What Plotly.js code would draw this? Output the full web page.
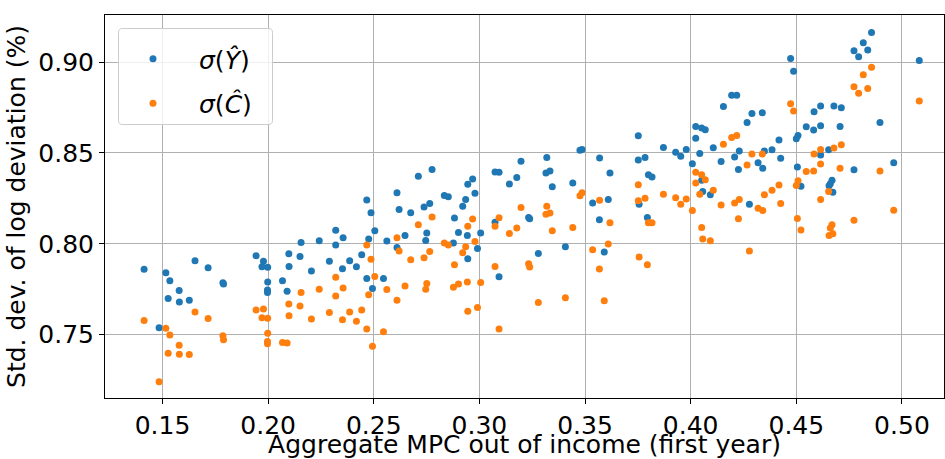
<!DOCTYPE html>
<html>
<head>
<meta charset="utf-8">
<script src="https://cdn.plot.ly/plotly-3.0.1.min.js"></script>
<style>html,body{margin:0;padding:0;background:#fff;}#chart{width:945px;height:459px;}</style>
</head>
<body>
<div id="chart"></div>
<script>
// Aggregate MPC out of income (first year)
const mpc = [
0.1413,0.1516,0.1535,0.1654,0.1716,0.1786,0.1789,0.1579,0.1527,0.1580,0.1627,0.1484,
0.1943,0.1978,0.1971,0.1998,0.1998,0.1997,0.1997,0.2098,0.2099,0.2068,0.2090,0.2156,0.2151,0.2205,0.2242,
0.2320,0.2320,0.2355,0.2290,0.2352,0.2386,0.2418,0.2443,0.2467,0.2487,0.2505,0.2476,0.2467,0.2494,0.2546,
0.2562,0.2610,0.2620,0.2610,0.2648,0.2675,0.2711,0.2776,0.2738,0.2765,0.2751,0.2746,0.2834,0.2853,0.2882,
0.2877,0.2901,0.2921,0.2935,0.2945,0.2968,0.2979,0.2943,0.2945,0.2991,0.3006,0.3074,0.3093,0.3142,0.3177,
0.3197,0.3074,0.3093,0.3233,0.3238,
0.3279,0.3407,0.3319,0.3315,0.3334,0.3345,0.3442,0.3476,0.3486,0.3569,0.3618,0.3536,0.3610,0.3568,0.3591,
0.3752,0.3752,0.3784,0.3800,0.3817,0.3756,0.3795,0.3871,0.3929,0.3953,0.3979,0.4008,0.4024,0.4052,0.4069,
0.4024,0.4043,0.4107,0.4052,0.4057,0.4093,0.4144,0.4155,0.4194,0.4218,0.4208,0.4230,0.4226,
0.4267,0.4290,0.4339,0.4319,0.4341,0.4349,0.4385,0.4418,0.4426,0.4278,0.4473,0.4487,0.4500,0.4508,0.4505,
0.4522,0.4547,0.4582,0.4584,0.4615,0.4615,0.4615,0.4653,0.4678,0.4713,0.4707,0.4669,0.4661,0.4655,0.4673,
0.4773,0.4817,0.4856,0.4795,0.4838,0.4773,0.4896,0.4961,0.5082
];
// sigma(Y hat)
const sigY = [
0.7859,0.7841,0.7797,0.7907,0.7868,0.7786,0.7778,0.7742,0.7698,0.7679,0.7689,0.7537,
0.7934,0.7903,0.7874,0.7870,0.7789,0.7745,0.7731,0.7945,0.7875,0.7797,0.7738,0.8007,0.7930,0.7850,0.8017,
0.8074,0.7993,0.8033,0.7903,0.7862,0.7906,0.7873,0.7939,0.8241,0.8171,0.8072,0.8026,0.7809,0.7754,0.7809,
0.8015,0.8281,0.8189,0.7980,0.8046,0.8171,0.8371,0.8408,0.8202,0.8222,0.8059,0.8018,0.8265,0.8259,0.8142,
0.8004,0.8062,0.8206,0.8243,0.8327,0.8357,0.8278,0.8046,0.7917,0.7974,0.8059,0.8395,0.8393,0.8329,0.8364,
0.8454,0.8118,0.7818,0.8144,0.8138,
0.7947,0.7983,0.8475,0.8389,0.8400,0.8314,0.8334,0.8514,0.8519,0.8472,0.8389,0.8224,0.8244,0.8132,0.7954,
0.8594,0.8461,0.8475,0.8380,0.8367,0.8217,0.8145,0.8530,0.8503,0.8481,0.8519,0.8440,0.8646,0.8637,0.8628,
0.8580,0.8497,0.8528,0.8349,0.8288,0.8270,0.8453,0.8756,0.8817,0.8817,0.8477,0.8510,0.8409,
0.8668,0.8717,0.8721,0.8446,0.8415,0.8510,0.8517,0.8571,0.8470,0.8218,0.9020,0.8949,0.8578,0.8596,0.8422,
0.8316,0.8644,0.8626,0.8727,0.8758,0.8650,0.8488,0.8517,0.8758,0.8749,0.8646,0.8350,0.8330,0.8319,0.8283,
0.9062,0.9106,0.9163,0.9029,0.9066,0.8407,0.8668,0.8446,0.9009
];
// sigma(C hat)
const sigC = [
0.7577,0.7535,0.7498,0.7625,0.7588,0.7493,0.7471,0.7441,0.7397,0.7392,0.7390,0.7240,
0.7636,0.7641,0.7593,0.7590,0.7507,0.7462,0.7449,0.7668,0.7604,0.7456,0.7454,0.7731,0.7658,0.7586,0.7749,
0.7816,0.7713,0.7756,0.7621,0.7581,0.7625,0.7574,0.7636,0.7993,0.7914,0.7820,0.7719,0.7531,0.7436,0.7515,
0.7748,0.8033,0.7960,0.7689,0.7767,0.7912,0.8105,0.8147,0.7923,0.7958,0.7781,0.7750,0.8004,0.7993,0.7884,
0.7761,0.7779,0.7950,0.7983,0.8096,0.8136,0.8013,0.7789,0.7629,0.7649,0.7787,0.8096,0.8143,0.8057,0.8086,
0.8200,0.7875,0.7531,0.7890,0.7872,
0.7677,0.7703,0.8206,0.8163,0.8169,0.8072,0.8090,0.8264,0.8281,0.8240,0.8116,0.7967,0.7998,0.7861,0.7686,
0.8325,0.8237,0.8250,0.8116,0.8116,0.7927,0.7884,0.8272,0.8253,0.8218,0.8246,0.8183,0.8394,0.8380,0.8352,
0.8334,0.8273,0.8294,0.8090,0.8026,0.8017,0.8213,0.8547,0.8585,0.8596,0.8224,0.8244,0.8138,
0.8433,0.8494,0.8494,0.8196,0.8183,0.8270,0.8294,0.8323,0.8222,0.7960,0.8771,0.8730,0.8321,0.8347,0.8139,
0.8075,0.8398,0.8400,0.8494,0.8519,0.8439,0.8244,0.8288,0.8527,0.8545,0.8415,0.8105,0.8086,0.8046,0.8055,
0.8864,0.8930,0.8971,0.8829,0.8855,0.8130,0.8400,0.8185,0.8785
];
const xTicks = [0.15,0.20,0.25,0.30,0.35,0.40,0.45,0.50];
const xTickText = ["0.15","0.20","0.25","0.30","0.35","0.40","0.45","0.50"];
const yTicks = [0.75,0.80,0.85,0.90];
const yTickText = ["0.75","0.80","0.85","0.90"];
const seriesNames = ["<i>σ</i>(<i>Ŷ</i>)", "<i>σ</i>(<i>Ĉ</i>)"];

const FONT = "DejaVu Sans, sans-serif";
const FS = 25;
const W = 945, H = 459, ML = 105, MR = 1, MT = 15, MB = 61;
const PW = W - ML - MR, PH = H - MT - MB;
// legend frame (pixel coordinates converted to paper coordinates)
function px2paper(px, py) { return [(px - ML) / PW, (H - MB - py) / PH]; }
function roundedRect(x0, y0, x1, y1, r) {
  const p = (a, b) => { const q = px2paper(a, b); return q[0].toFixed(5) + "," + q[1].toFixed(5); };
  return "M" + p(x0 + r, y0) + " L" + p(x1 - r, y0) + " Q" + p(x1, y0) + " " + p(x1, y0 + r) +
    " L" + p(x1, y1 - r) + " Q" + p(x1, y1) + " " + p(x1 - r, y1) +
    " L" + p(x0 + r, y1) + " Q" + p(x0, y1) + " " + p(x0, y1 - r) +
    " L" + p(x0, y0 + r) + " Q" + p(x0, y0) + " " + p(x0 + r, y0) + " Z";
}
const traces = [
  {x: mpc, y: sigY, mode: "markers", type: "scatter", name: seriesNames[0], legendgroup: "a",
   marker: {color: "#1f77b4", size: 7}},
  {x: mpc, y: sigC, mode: "markers", type: "scatter", name: seriesNames[1], legendgroup: "b",
   marker: {color: "#ff7f0e", size: 7}}
];
const axisCommon = {
  showline: true, mirror: true, linecolor: "#000", linewidth: 1,
  showgrid: true, gridcolor: "#b0b0b0", gridwidth: 1,
  ticks: "outside", ticklen: 5, tickcolor: "#000", tickwidth: 1,
  zeroline: false, tickfont: {family: FONT, size: FS, color: "#000"}
};
const layout = {
  width: W, height: H,
  margin: {l: ML, r: MR, t: MT, b: MB},
  paper_bgcolor: "#fff", plot_bgcolor: "#fff",
  showlegend: true,
  legend: {x: (107 - ML) / PW, y: (H - MB - 36) / PH, xanchor: "left", yanchor: "top",
    bgcolor: "rgba(0,0,0,0)", borderwidth: 0,
    font: {family: FONT, size: FS, color: "#000"}, traceorder: "grouped", tracegroupgap: 9,
    itemwidth: 82},
  shapes: [{type: "path", xref: "paper", yref: "paper", layer: "above",
    path: roundedRect(118.5, 28.5, 272.5, 124.5, 4),
    fillcolor: "rgba(255,255,255,0.8)", line: {color: "#cccccc", width: 1}}],
  xaxis: Object.assign({}, axisCommon, {
    range: [0.1228, 0.5199], tickvals: xTicks, ticktext: xTickText,
    title: {text: "Aggregate MPC out of income (first year)", font: {family: FONT, size: FS, color: "#000"}, standoff: 4}
  }),
  yaxis: Object.assign({}, axisCommon, {
    range: [0.7151, 0.9259], tickvals: yTicks, ticktext: yTickText,
    title: {text: "Std. dev. of log deviation (%)", font: {family: FONT, size: FS, color: "#000"}, standoff: 5}
  })
};
Plotly.newPlot("chart", traces, layout, {displayModeBar: false, staticPlot: true});
</script>
</body>
</html>
